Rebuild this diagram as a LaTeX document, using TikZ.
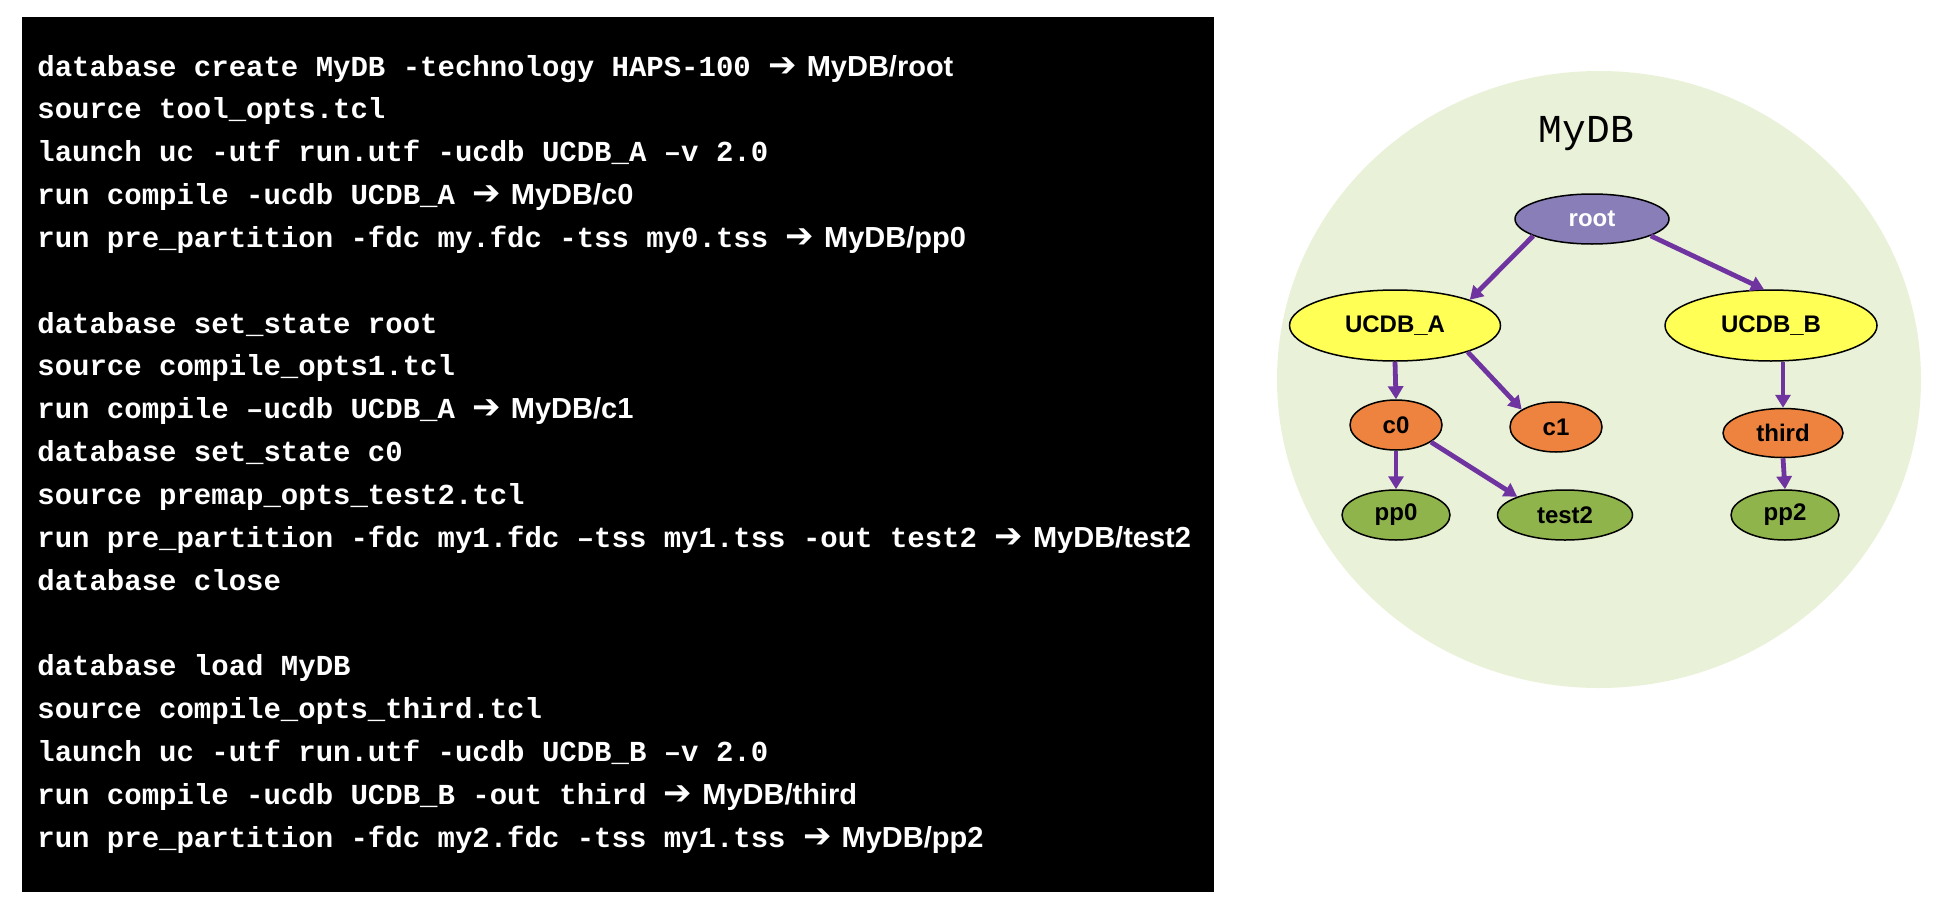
\documentclass[tikz,border=0pt]{standalone}
\usepackage{fontspec}
\usetikzlibrary{shapes.geometric,arrows.meta}
\newfontfamily\codefont{Liberation Mono}
\newfontfamily\labsans{Liberation Sans}
\newfontfamily\arrowfont{DejaVu Sans}
\definecolor{bgreen}{RGB}{233,241,216}
\definecolor{rootc}{RGB}{137,126,184}
\definecolor{yel}{RGB}{255,255,85}
\definecolor{ora}{RGB}{237,131,62}
\definecolor{grn}{RGB}{143,180,76}
\definecolor{arrowc}{RGB}{112,52,160}
\newcommand{\res}[1]{{\arrowfont\bfseries\fontsize{17pt}{17pt}\selectfont ➔}\hspace{5pt}{\labsans\bfseries #1}}
\tikzset{
  codeline/.style={anchor=base west, inner sep=0pt, text=white,
    font=\codefont\bfseries\fontsize{14.5pt}{17pt}\selectfont},
  tnode/.style={ellipse, draw=black, line width=0.75pt, inner sep=0pt,
    font=\labsans\bfseries\fontsize{12pt}{14pt}\selectfont},
  arr/.style={draw=arrowc, line width=2.4pt, -{Triangle[length=6.5pt,width=7.5pt]}}
}
\begin{document}
\begin{tikzpicture}[x=0.5pt,y=-0.5pt]
\useasboundingbox (0,0) rectangle (1942,910);
\fill[black] (22,17) rectangle (1214,892);
% code lines
\def\bl#1{76+42.85*#1}
\node[codeline] (l0) at (37,{\bl{0}}) {database create MyDB -technology HAPS-100 \res{MyDB/root}};
\node[codeline] (l1) at (37,{\bl{1}}) {source tool\_opts.tcl};
\node[codeline] (l2) at (37,{\bl{2}}) {launch uc -utf run.utf -ucdb UCDB\_A –v 2.0};
\node[codeline] (l3) at (37,{\bl{3}}) {run compile -ucdb UCDB\_A \res{MyDB/c0}};
\node[codeline] (l4) at (37,{\bl{4}}) {run pre\_partition -fdc my.fdc -tss my0.tss \res{MyDB/pp0}};
\node[codeline] (l6) at (37,{\bl{6}}) {database set\_state root};
\node[codeline] (l7) at (37,{\bl{7}}) {source compile\_opts1.tcl};
\node[codeline] (l8) at (37,{\bl{8}}) {run compile –ucdb UCDB\_A \res{MyDB/c1}};
\node[codeline] (l9) at (37,{\bl{9}}) {database set\_state c0};
\node[codeline] (l10) at (37,{\bl{10}}) {source premap\_opts\_test2.tcl};
\node[codeline] (l11) at (37,{\bl{11}}) {run pre\_partition -fdc my1.fdc –tss my1.tss -out test2 \res{MyDB/test2}};
\node[codeline] (l12) at (37,{\bl{12}}) {database close};
\node[codeline] (l14) at (37,{\bl{14}}) {database load MyDB};
\node[codeline] (l15) at (37,{\bl{15}}) {source compile\_opts\_third.tcl};
\node[codeline] (l16) at (37,{\bl{16}}) {launch uc -utf run.utf -ucdb UCDB\_B –v 2.0};
\node[codeline] (l17) at (37,{\bl{17}}) {run compile -ucdb UCDB\_B -out third \res{MyDB/third}};
\node[codeline] (l18) at (37,{\bl{18}}) {run pre\_partition -fdc my2.fdc -tss my1.tss \res{MyDB/pp2}};
% database ellipse
\node[ellipse, fill=bgreen, inner sep=0pt, minimum width=322pt, minimum height=308.5pt] (db) at (1599,379.5) {};
\node[anchor=base, inner sep=0pt, font=\codefont\fontsize{19.8pt}{22pt}\selectfont] (dbl) at (1586.5,142.7) {MyDB};
% tree nodes
\node[tnode, fill=rootc, text=white, minimum width=77pt, minimum height=25pt] (root) at (1592,219) {root};
\node[tnode, fill=yel, minimum width=105.5pt, minimum height=35.5pt] (UCDB_A) at (1395,325.5) {UCDB\_A};
\node[tnode, fill=yel, minimum width=106pt, minimum height=35.5pt] (UCDB_B) at (1771,325.5) {UCDB\_B};
\node[tnode, fill=ora, minimum width=46pt, minimum height=25pt] (c0) at (1396,425) {c0};
\node[tnode, fill=ora, minimum width=46pt, minimum height=25pt] (c1) at (1556,427) {c1};
\node[tnode, fill=ora, minimum width=60pt, minimum height=24.5pt] (third) at (1783,433) {third};
\node[tnode, fill=grn, minimum width=54pt, minimum height=25pt] (pp0) at (1396,515) {pp0};
\node[tnode, fill=grn, minimum width=67.5pt, minimum height=25pt] (test2) at (1565,515) {test2};
\node[tnode, fill=grn, minimum width=54pt, minimum height=25pt] (pp2) at (1785,515) {pp2};
% connectors
\draw[arr] (root.196) -- (UCDB_A.19);
\draw[arr] (root.344) -- (UCDB_B.101);
\draw[arr] (UCDB_A.south) -- (c0.north);
\draw[arr] (UCDB_A.340) -- (c1.153);
\draw[arr] (UCDB_B.south -| third.north) -- (third.north);
\draw[arr] (c0.south) -- (pp0.north);
\draw[arr] (c0.334) -- (test2.159);
\draw[arr] (third.south) -- (pp2.north);
\end{tikzpicture}
\end{document}
